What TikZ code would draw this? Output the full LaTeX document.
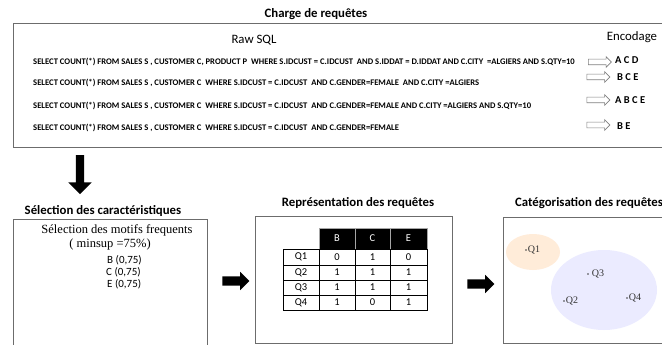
\documentclass[tikz,border=0pt]{standalone}
\usepackage{fontspec}
\setmainfont{Carlito}
\newfontfamily\serifont{Liberation Serif}
\usetikzlibrary{shapes.arrows,shapes.geometric}
\begin{document}
\begin{tikzpicture}[x=1pt,y=-1pt,
  panel/.style={draw=gray!85!black, line width=0.8pt, inner sep=0pt, fill=none},
  ttl/.style={font=\bfseries\fontsize{12.8}{15}\selectfont, inner sep=0pt},
  sql/.style={anchor=west, font=\bfseries\fontsize{8.6}{10}\selectfont, inner sep=0pt},
  enc/.style={anchor=west, font=\bfseries\fontsize{10.5}{12}\selectfont, inner sep=0pt},
  hollow/.style={single arrow, draw=gray, fill=white, line width=0.6pt, inner sep=2.5pt, single arrow head extend=2.5pt, minimum height=23pt},
  blockarrow/.style={single arrow, fill=black, inner sep=4.5pt, single arrow head extend=4.5pt, minimum height=27pt},
  cell/.style={draw=black, line width=0.6pt, inner sep=0pt, font=\fontsize{10.5}{12}\selectfont},
  hcell/.style={draw=gray!70, fill=black, text=white, line width=0.6pt, inner sep=0pt, font=\fontsize{10.5}{12}\selectfont},
  qdot/.style={circle, fill=black!75, inner sep=0.7pt},
  qlab/.style={anchor=west, inner sep=0.5pt, text=black!80, font=\serifont\fontsize{10}{11}\selectfont},
  item/.style={anchor=west, inner sep=0pt, font=\fontsize{11}{13}\selectfont}
]
\clip (0,0) rectangle (662,345);
\fill[white] (0,0) rectangle (662,345);

% ---------- top panel ----------
\node[ttl] (charge) at (316,14) {Charge de requêtes};
\node[panel, minimum width=700pt, minimum height=124pt] (top) at (363,85) {};
\node[font=\fontsize{12.8}{15}\selectfont, inner sep=0pt] (raw) at (254,40) {Raw SQL};
\node[font=\fontsize{12.8}{15}\selectfont, inner sep=0pt] (encod) at (632,37) {Encodage};

\node[sql] (s1) at (33,62) {SELECT COUNT(*) FROM SALES S , CUSTOMER C, PRODUCT P\ \ WHERE S.IDCUST = C.IDCUST\ \ AND S.IDDAT = D.IDDAT AND C.CITY\ \ =ALGIERS AND S.QTY=10};
\node[sql] (s2) at (33,83) {SELECT COUNT(*) FROM SALES S , CUSTOMER C\ \ WHERE S.IDCUST = C.IDCUST\ \ AND C.GENDER=FEMALE\ \ AND C.CITY =ALGIERS};
\node[sql] (s3) at (33,106) {SELECT COUNT(*) FROM SALES S , CUSTOMER C\ \ WHERE S.IDCUST = C.IDCUST\ \ AND C.GENDER=FEMALE AND C.CITY =ALGIERS AND S.QTY=10};
\node[sql] (s4) at (33,128) {SELECT COUNT(*) FROM SALES S , CUSTOMER C\ \ WHERE S.IDCUST = C.IDCUST\ \ AND C.GENDER=FEMALE};

\node[hollow] (h1) at (598.5,62) {};
\node[hollow] (h2) at (597,77) {};
\node[hollow] (h3) at (597,100) {};
\node[hollow] (h4) at (597,125) {};

\node[enc] (e1) at (615,60) {A C D};
\node[enc] (e2) at (617,77) {B C E};
\node[enc] (e3) at (615,100) {A B C E};
\node[enc] (e4) at (617,126) {B E};

% ---------- down arrow ----------
\node[single arrow, fill=black, inner sep=4pt, single arrow head extend=7.5pt, minimum height=39pt, shape border rotate=270] (down) at (80,172.5) {};

% ---------- selection panel ----------
\node[ttl] (selt) at (103,211) {Sélection des caractéristiques};
\node[panel, minimum width=194pt, minimum height=150pt] (sel) at (110,294) {};
\node[inner sep=0pt, font=\serifont\fontsize{12.5}{14}\selectfont] (sel1) at (117,230) {Sélection des motifs frequents};
\node[inner sep=0pt, font=\serifont\fontsize{12.5}{14}\selectfont] (sel2) at (110,244) {( minsup =75\%)};
\node[item] (ib) at (107,260) {B (0,75)};
\node[item] (ic) at (106,272) {C (0,75)};
\node[item] (ie) at (107,284) {E (0,75)};

% ---------- arrow 1 ----------
\node[blockarrow] (a1) at (233.5,281) {};

% ---------- representation panel ----------
\node[ttl] (rept) at (358,203) {Représentation des requêtes};
\node[panel, minimum width=197pt, minimum height=127pt] (rep) at (353.5,279.5) {};

\node[hcell, minimum width=36pt, minimum height=21pt] (hb) at (337,238.5) {B};
\node[hcell, minimum width=35pt, minimum height=21pt] (hc) at (372.5,238.5) {C};
\node[hcell, minimum width=37pt, minimum height=21pt] (he) at (408.5,238.5) {E};

\foreach \r/\t/\b/\q/\vb/\vc/\ve in {1/249/265/Q1/0/1/0, 2/265/280/Q2/1/1/1, 3/280/295/Q3/1/1/1, 4/295/310/Q4/1/0/1}{
  \node[cell, minimum width=36pt, minimum height={\b-\t}] (q\r) at (301,{(\t+\b)/2}) {\q};
  \node[cell, minimum width=36pt, minimum height={\b-\t}] (b\r) at (337,{(\t+\b)/2}) {\vb};
  \node[cell, minimum width=35pt, minimum height={\b-\t}] (c\r) at (372.5,{(\t+\b)/2}) {\vc};
  \node[cell, minimum width=37pt, minimum height={\b-\t}] (x\r) at (408.5,{(\t+\b)/2}) {\ve};
}

% ---------- arrow 2 ----------
\node[blockarrow] (a2) at (478.5,284) {};

% ---------- categorisation panel ----------
\node[ttl, anchor=west] (catt) at (515,203) {Catégorisation des requêtes};
\node[panel, minimum width=200pt, minimum height=126pt] (cat) at (603,280) {};
\node[ellipse, fill=orange!15!white, minimum width=54pt, minimum height=36pt, inner sep=0pt] (g1) at (533,252) {};
\node[ellipse, fill=blue!8!white, minimum width=106pt, minimum height=80pt, inner sep=0pt] (g2) at (604,290) {};

\node[qdot] (d1) at (526,250) {};
\node[qlab] (l1) at (d1.east) {Q1};
\node[qdot] (d3) at (588,274) {};
\node[qlab] (l3) at ([xshift=2pt]d3.east) {Q3};
\node[qdot] (d2) at (564,301) {};
\node[qlab] (l2) at (d2.east) {Q2};
\node[qdot] (d4) at (627,298) {};
\node[qlab] (l4) at (d4.east) {Q4};
\end{tikzpicture}
\end{document}
